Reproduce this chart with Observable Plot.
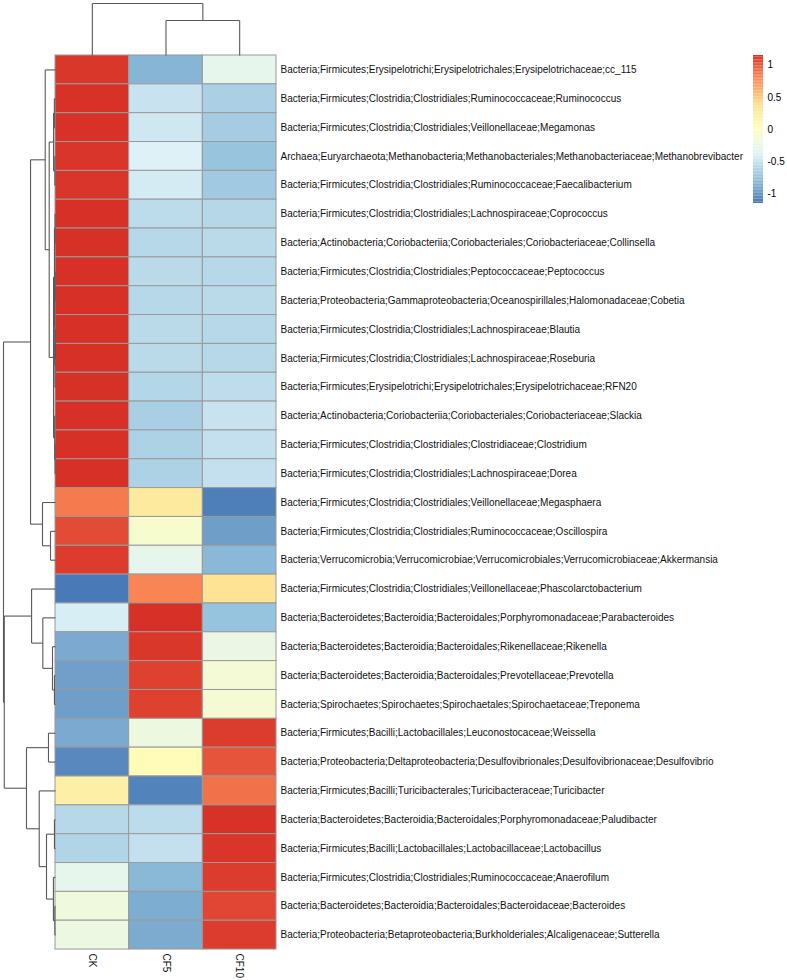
<!DOCTYPE html>
<html>
<head>
<meta charset="utf-8">
<script src="https://cdn.jsdelivr.net/npm/d3@7"></script>
<script src="https://cdn.jsdelivr.net/npm/@observablehq/plot@0.6"></script>
<style>
  body { margin: 0; background: #fff; }
  #chart { position: relative; width: 787px; height: 980px; }
  #chart svg { position: absolute; left: 0; top: 0; }
</style>
</head>
<body>
<div id="chart"></div>
<script>
// ---------- data ----------
const samples = ["CK", "CF5", "CF10"];

const taxa = [
  "Bacteria;Firmicutes;Erysipelotrichi;Erysipelotrichales;Erysipelotrichaceae;cc_115",
  "Bacteria;Firmicutes;Clostridia;Clostridiales;Ruminococcaceae;Ruminococcus",
  "Bacteria;Firmicutes;Clostridia;Clostridiales;Veillonellaceae;Megamonas",
  "Archaea;Euryarchaeota;Methanobacteria;Methanobacteriales;Methanobacteriaceae;Methanobrevibacter",
  "Bacteria;Firmicutes;Clostridia;Clostridiales;Ruminococcaceae;Faecalibacterium",
  "Bacteria;Firmicutes;Clostridia;Clostridiales;Lachnospiraceae;Coprococcus",
  "Bacteria;Actinobacteria;Coriobacteriia;Coriobacteriales;Coriobacteriaceae;Collinsella",
  "Bacteria;Firmicutes;Clostridia;Clostridiales;Peptococcaceae;Peptococcus",
  "Bacteria;Proteobacteria;Gammaproteobacteria;Oceanospirillales;Halomonadaceae;Cobetia",
  "Bacteria;Firmicutes;Clostridia;Clostridiales;Lachnospiraceae;Blautia",
  "Bacteria;Firmicutes;Clostridia;Clostridiales;Lachnospiraceae;Roseburia",
  "Bacteria;Firmicutes;Erysipelotrichi;Erysipelotrichales;Erysipelotrichaceae;RFN20",
  "Bacteria;Actinobacteria;Coriobacteriia;Coriobacteriales;Coriobacteriaceae;Slackia",
  "Bacteria;Firmicutes;Clostridia;Clostridiales;Clostridiaceae;Clostridium",
  "Bacteria;Firmicutes;Clostridia;Clostridiales;Lachnospiraceae;Dorea",
  "Bacteria;Firmicutes;Clostridia;Clostridiales;Veillonellaceae;Megasphaera",
  "Bacteria;Firmicutes;Clostridia;Clostridiales;Ruminococcaceae;Oscillospira",
  "Bacteria;Verrucomicrobia;Verrucomicrobiae;Verrucomicrobiales;Verrucomicrobiaceae;Akkermansia",
  "Bacteria;Firmicutes;Clostridia;Clostridiales;Veillonellaceae;Phascolarctobacterium",
  "Bacteria;Bacteroidetes;Bacteroidia;Bacteroidales;Porphyromonadaceae;Parabacteroides",
  "Bacteria;Bacteroidetes;Bacteroidia;Bacteroidales;Rikenellaceae;Rikenella",
  "Bacteria;Bacteroidetes;Bacteroidia;Bacteroidales;Prevotellaceae;Prevotella",
  "Bacteria;Spirochaetes;Spirochaetes;Spirochaetales;Spirochaetaceae;Treponema",
  "Bacteria;Firmicutes;Bacilli;Lactobacillales;Leuconostocaceae;Weissella",
  "Bacteria;Proteobacteria;Deltaproteobacteria;Desulfovibrionales;Desulfovibrionaceae;Desulfovibrio",
  "Bacteria;Firmicutes;Bacilli;Turicibacterales;Turicibacteraceae;Turicibacter",
  "Bacteria;Bacteroidetes;Bacteroidia;Bacteroidales;Porphyromonadaceae;Paludibacter",
  "Bacteria;Firmicutes;Bacilli;Lactobacillales;Lactobacillaceae;Lactobacillus",
  "Bacteria;Firmicutes;Clostridia;Clostridiales;Ruminococcaceae;Anaerofilum",
  "Bacteria;Bacteroidetes;Bacteroidia;Bacteroidales;Bacteroidaceae;Bacteroides",
  "Bacteria;Proteobacteria;Betaproteobacteria;Burkholderiales;Alcaligenaceae;Sutterella"
];

// row-scaled (z-score) abundances
const ckValues = [
  1.12, 1.14, 1.14, 1.13, 1.13, 1.15, 1.15, 1.15, 1.15, 1.15,
  1.15, 1.15, 1.15, 1.15, 1.15, 0.84, 1.04, 1.10, -1.13, -0.42,
  -0.88, -0.93, -0.94, -0.88, -1.05, 0.20, -0.58, -0.61, -0.30, -0.20,
  -0.23
];
const cf5Values = [
  -0.82, -0.50, -0.47, -0.40, -0.44, -0.56, -0.58, -0.57, -0.58, -0.57,
  -0.57, -0.60, -0.65, -0.63, -0.63, 0.26, -0.10, -0.30, 0.80, 1.15,
  1.12, 1.08, 1.08, -0.22, 0.05, -1.08, -0.56, -0.52, -0.80, -0.86,
  -0.87
];
const cf10Values = [
  -0.30, -0.64, -0.67, -0.73, -0.69, -0.59, -0.57, -0.58, -0.57, -0.58,
  -0.58, -0.55, -0.50, -0.52, -0.52, -1.10, -0.94, -0.80, 0.35, -0.74,
  -0.25, -0.15, -0.14, 1.10, 1.00, 0.88, 1.14, 1.13, 1.10, 1.06,
  1.10
];

// hierarchical clustering merges (R hclust style: negative = leaf row, positive = earlier merge), height relative to root
const rowMerge = [
  [-2, -3, 0.022], [-4, -5, 0.012], [1, 2, 0.037], [-6, -7, 0.008], [-8, -9, 0.006],
  [-10, -11, 0.005], [6, -12, 0.010], [5, 7, 0.014], [4, 8, 0.020], [-14, -15, 0.008],
  [-13, 10, 0.016], [9, 11, 0.038], [3, 12, 0.121], [-1, 13, 0.198], [-17, -18, 0.096],
  [-16, 15, 0.250], [14, 16, 0.480], [-22, -23, 0.020], [-21, 18, 0.058], [-20, 19, 0.244],
  [-19, 20, 0.460], [-24, -25, 0.135], [-27, -28, 0.020], [-30, -31, 0.012], [-29, 24, 0.040],
  [23, 25, 0.173], [-26, 26, 0.313], [22, 27, 0.558], [21, 28, 0.985], [17, 29, 1.000]
];
const colMerge = [[-2, -3, 0.673], [-1, 1, 1.000]];

const legendTicks = [-1, -0.5, 0, 0.5, 1];

// ---------- styles / layout ----------
const palette = ["#4575B4", "#91BFDB", "#E0F3F8", "#FFFFBF", "#FEE090", "#FC8D59", "#D73027"];
const W = 787, H = 980;
const gridLeft = 55, gridTop = 55, cellW = 73.67, cellH = 28.84;
const treeRowW = 52, treeColH = 52;
const legendLeft = 753, legendW = 10, legendTop = 55, legendH = 148;
const font = "'Liberation Sans', Arial, Helvetica, sans-serif";
const treeStroke = "#595959";

const nRow = taxa.length, nCol = samples.length;
const columns = [ckValues, cf5Values, cf10Values];
const cells = [];
taxa.forEach((t, r) => samples.forEach((s, c) => cells.push({r, c, value: columns[c][r]})));
const m = d3.max(cells, d => Math.abs(d.value));

const colorScale = {
  type: "linear",
  domain: palette.map((_, k) => -m + 2 * m * k / (palette.length - 1)),
  range: palette,
  interpolate: "rgb"
};

function treeSegments(merge) {
  const pos = [], hgt = [], segs = [];
  const get = k => k < 0 ? {p: -k - 1 + 0.5, h: 0} : {p: pos[k - 1], h: hgt[k - 1]};
  merge.forEach(([a, b, h], i) => {
    const A = get(a), B = get(b);
    segs.push({p1: A.p, h1: h, p2: B.p, h2: h});
    segs.push({p1: A.p, h1: A.h, p2: A.p, h2: h});
    segs.push({p1: B.p, h1: B.h, p2: B.p, h2: h});
    pos[i] = (A.p + B.p) / 2;
    hgt[i] = h;
  });
  return segs;
}
const rowSegs = treeSegments(rowMerge);
const colSegs = treeSegments(colMerge);
const rowK = treeRowW / cellW;   // tree height in column units
const colK = treeColH / cellH;   // tree height in row units

const main = Plot.plot({
  width: W,
  height: H,
  marginLeft: gridLeft - treeRowW,
  marginRight: W - (gridLeft + nCol * cellW),
  marginTop: gridTop - treeColH,
  marginBottom: H - (gridTop + nRow * cellH),
  x: {domain: [-rowK, nCol], axis: null},
  y: {domain: [-colK, nRow], reverse: true, axis: null},
  color: colorScale,
  style: {background: "transparent", fontFamily: font, color: "#000"},
  marks: [
    Plot.rect(cells, {
      x1: d => d.c, x2: d => d.c + 1, y1: d => d.r, y2: d => d.r + 1,
      fill: "value", stroke: "#9a9a9a", strokeWidth: 1
    }),
    Plot.link(rowSegs, {
      x1: d => -d.h1 * rowK, y1: "p1", x2: d => -d.h2 * rowK, y2: "p2",
      stroke: treeStroke, strokeWidth: 1.1, curve: "linear"
    }),
    Plot.link(colSegs, {
      x1: "p1", y1: d => -d.h1 * colK, x2: "p2", y2: d => -d.h2 * colK,
      stroke: treeStroke, strokeWidth: 1.1, curve: "linear"
    }),
    Plot.text(taxa, {
      x: nCol, y: (d, i) => i + 0.5, text: d => d,
      textAnchor: "start", dx: 4, fontSize: 10, fill: "#111"
    }),
    Plot.text(samples, {
      x: (d, i) => i + 0.5, y: nRow, text: d => d,
      rotate: 90, textAnchor: "start", dy: 4, fontSize: 10, fill: "#111"
    })
  ]
});

const steps = d3.range(100).map(k => ({
  y1: -m + 2 * m * k / 100, y2: -m + 2 * m * (k + 1) / 100
}));

const legend = Plot.plot({
  width: W,
  height: H,
  marginLeft: legendLeft,
  marginRight: W - legendLeft - legendW,
  marginTop: legendTop,
  marginBottom: H - legendTop - legendH,
  x: {domain: [0, 1], axis: null},
  y: {domain: [-m, m]},
  color: colorScale,
  style: {background: "transparent", fontFamily: font, color: "#000"},
  marks: [
    Plot.rect(steps, {x1: 0, x2: 1, y1: "y1", y2: "y2", fill: d => (d.y1 + d.y2) / 2}),
    Plot.axisY({
      anchor: "right", ticks: legendTicks, tickSize: 0, tickPadding: 4,
      tickFormat: d => String(d), fontSize: 10, label: null
    })
  ]
});

const chart = document.getElementById("chart");
chart.appendChild(main);
chart.appendChild(legend);
</script>
</body>
</html>
